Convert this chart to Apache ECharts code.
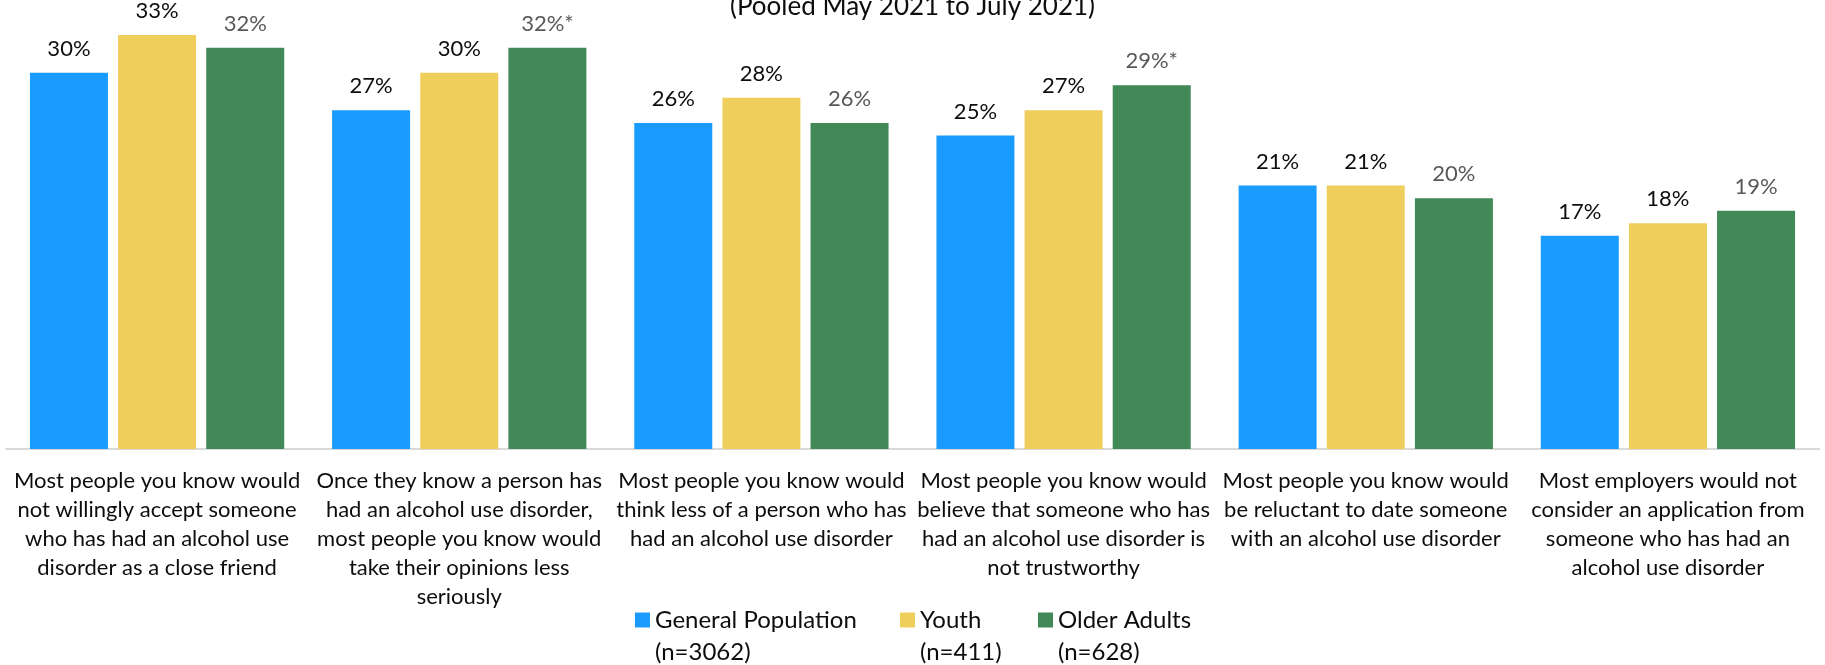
<!DOCTYPE html>
<html>
<head>
<meta charset="utf-8">
<title>Alcohol use disorder stigma</title>
<script src="https://cdn.jsdelivr.net/npm/echarts@6/dist/echarts.min.js"></script>
<style>
  html, body { margin: 0; padding: 0; background: #fff; }
  #chart { width: 1825px; height: 665px; }
</style>
</head>
<body>
<div id="chart"></div>
<script>
// Statements, each split into the lines shown under the axis
const statementLines = [
  ['Most people you know would', 'not willingly accept someone', 'who has had an alcohol use', 'disorder as a close friend'],
  ['Once they know a person has', 'had an alcohol use disorder,', 'most people you know would', 'take their opinions less', 'seriously'],
  ['Most people you know would', 'think less of a person who has', 'had an alcohol use disorder'],
  ['Most people you know would', 'believe that someone who has', 'had an alcohol use disorder is', 'not trustworthy'],
  ['Most people you know would', 'be reluctant to date someone', 'with an alcohol use disorder'],
  ['Most employers would not', 'consider an application from', 'someone who has had an', 'alcohol use disorder']
];
const categories = statementLines.map(l => l.join('\n'));

// Percent agreeing, by group
const generalPopulation = [30, 27, 26, 25, 21, 17];
const youth = [33, 30, 28, 27, 21, 18];
const olderAdults = [32, 32, 26, 29, 20, 19];
// Statistically significant difference for older adults (marked with *)
const olderAdultsSig = [false, true, false, true, false, false];

const seriesNames = ['General Population\n(n=3062)', 'Youth\n(n=411)', 'Older Adults\n(n=628)'];
const titleText = '(Pooled May 2021 to July 2021)';

const FONT = 'Lato, "Open Sans", sans-serif';
const colors = ['#1a9bff', '#f0ce5b', '#418a57'];

const chart = echarts.init(document.getElementById('chart'), null, { renderer: 'canvas' });

function barSeries(name, data, color, labelColor, sig) {
  return {
    name: name,
    type: 'bar',
    data: data,
    barWidth: 78,
    barGap: '13%',
    itemStyle: { color: color },
    label: {
      show: true,
      position: 'top',
      distance: 13,
      fontFamily: FONT,
      fontSize: 22,
      color: labelColor,
      formatter: p => p.value + '%' + (sig && sig[p.dataIndex] ? '*' : '')
    },
    emphasis: { disabled: true }
  };
}

// One legend block per group; a blank first line keeps the swatch level
// with the group name while the sample size sits on the line below.
function legendAt(left, name) {
  return {
    data: [name],
    left: left,
    top: 572,
    padding: 0,
    itemWidth: 15,
    itemHeight: 15,
    icon: 'rect',
    selectedMode: false,
    formatter: n => ' \n' + n,
    textStyle: {
      fontFamily: FONT,
      fontSize: 24,
      color: '#0d0d0d',
      lineHeight: 32
    }
  };
}

chart.setOption({
  animation: false,
  color: colors,
  title: {
    text: titleText,
    left: 'center',
    top: -6,
    padding: 0,
    textStyle: { fontFamily: FONT, fontSize: 26, fontWeight: 'normal', color: '#0d0d0d' }
  },
  legend: [
    legendAt(635, seriesNames[0]),
    legendAt(900, seriesNames[1]),
    legendAt(1038, seriesNames[2])
  ],
  grid: { left: 6, right: 6, top: 10, bottom: 216, containLabel: false },
  xAxis: {
    type: 'category',
    data: categories,
    axisLine: { show: true, lineStyle: { color: '#d9d9d9', width: 2 } },
    axisTick: { show: false },
    axisLabel: {
      interval: 0,
      margin: 17,
      fontFamily: FONT,
      fontSize: 22,
      lineHeight: 29,
      color: '#0d0d0d',
      align: 'center'
    }
  },
  yAxis: {
    type: 'value',
    min: 0,
    max: 35,
    show: false,
    splitLine: { show: false }
  },
  series: [
    barSeries(seriesNames[0], generalPopulation, colors[0], '#0d0d0d', null),
    barSeries(seriesNames[1], youth, colors[1], '#0d0d0d', null),
    barSeries(seriesNames[2], olderAdults, colors[2], '#595959', olderAdultsSig)
  ]
});
</script>
</body>
</html>
